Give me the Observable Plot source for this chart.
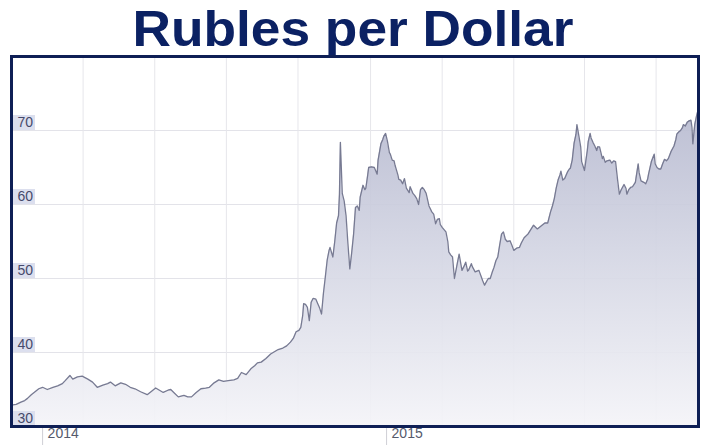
<!DOCTYPE html>
<html><head><meta charset="utf-8">
<script src="https://cdn.jsdelivr.net/npm/d3@7"></script>
<script src="https://cdn.jsdelivr.net/npm/@observablehq/plot@0.6"></script>
<style>
html,body{margin:0;padding:0;background:#fff;overflow:hidden}
#wrap{position:relative;width:706px;height:445px;overflow:hidden}
#title{position:absolute;left:0;top:0;width:706px;text-align:center;font-family:"Liberation Sans",Arial,sans-serif;font-weight:bold;font-size:50px;line-height:normal;color:#0b2163;white-space:nowrap;transform:scaleX(1.065);transform-origin:353px 0}
#chart{position:absolute;left:0;top:52px}
</style></head><body>
<div id="wrap"><div id="title">Rubles per Dollar</div><div id="chart"></div></div>
<script>
const dates = [
"2014-01-01","2014-01-06","2014-01-11","2014-01-15","2014-01-18","2014-01-22","2014-01-25","2014-01-30",
"2014-02-03","2014-02-08","2014-02-14","2014-02-19","2014-02-24","2014-02-27","2014-03-04","2014-03-07",
"2014-03-12","2014-03-17","2014-03-23","2014-03-28","2014-04-02","2014-04-08","2014-04-13","2014-04-16",
"2014-04-21","2014-04-27","2014-05-02","2014-05-07","2014-05-12","2014-05-18","2014-05-25","2014-05-30",
"2014-06-03","2014-06-07","2014-06-11","2014-06-16","2014-06-19","2014-06-23","2014-06-27","2014-07-03",
"2014-07-07","2014-07-11","2014-07-16","2014-07-21","2014-07-26","2014-07-30","2014-08-04","2014-08-09",
"2014-08-14","2014-08-19","2014-08-25","2014-08-29","2014-09-02","2014-09-07","2014-09-12","2014-09-16",
"2014-09-19","2014-09-23","2014-09-28","2014-10-03","2014-10-07","2014-10-11","2014-10-16","2014-10-20",
"2014-10-24","2014-10-27","2014-10-30","2014-11-02","2014-11-04","2014-11-06","2014-11-07","2014-11-09",
"2014-11-11","2014-11-13","2014-11-15","2014-11-17","2014-11-20","2014-11-22","2014-11-24","2014-11-26",
"2014-11-28","2014-11-30","2014-12-02","2014-12-04","2014-12-05","2014-12-08","2014-12-10","2014-12-12",
"2014-12-14","2014-12-15","2014-12-16","2014-12-18","2014-12-20","2014-12-22","2014-12-24","2014-12-26",
"2014-12-28","2014-12-30",
"2015-01-01","2015-01-03","2015-01-05","2015-01-06","2015-01-09","2015-01-11","2015-01-12","2015-01-14",
"2015-01-15","2015-01-18","2015-01-21","2015-01-24","2015-01-25","2015-01-28","2015-01-30","2015-01-31",
"2015-02-02","2015-02-04","2015-02-06","2015-02-07","2015-02-09","2015-02-11","2015-02-12","2015-02-15",
"2015-02-16","2015-02-18","2015-02-20","2015-02-22","2015-02-24","2015-02-27","2015-02-28","2015-03-03",
"2015-03-05","2015-03-07","2015-03-09","2015-03-11","2015-03-13","2015-03-15","2015-03-17","2015-03-20",
"2015-03-23","2015-03-25","2015-03-27","2015-03-29","2015-03-31","2015-04-01","2015-04-03","2015-04-07",
"2015-04-09","2015-04-10","2015-04-12","2015-04-14","2015-04-16","2015-04-19","2015-04-21","2015-04-24",
"2015-04-26","2015-04-28","2015-04-30","2015-05-01","2015-05-04","2015-05-05","2015-05-08","2015-05-12",
"2015-05-14","2015-05-16","2015-05-18","2015-05-21","2015-05-22","2015-05-24","2015-05-26","2015-05-28",
"2015-05-30","2015-06-01","2015-06-03","2015-06-05","2015-06-07","2015-06-09","2015-06-11","2015-06-14",
"2015-06-16","2015-06-18","2015-06-21","2015-06-24","2015-06-26","2015-06-29","2015-07-03","2015-07-06",
"2015-07-09","2015-07-13","2015-07-16","2015-07-21","2015-07-24","2015-07-27","2015-07-29","2015-07-31",
"2015-08-02","2015-08-04","2015-08-06","2015-08-07","2015-08-09","2015-08-11","2015-08-14","2015-08-16",
"2015-08-17","2015-08-19","2015-08-21","2015-08-23","2015-08-24","2015-08-26","2015-08-28","2015-08-29",
"2015-09-01","2015-09-02","2015-09-04","2015-09-05","2015-09-07","2015-09-08","2015-09-10","2015-09-12",
"2015-09-14","2015-09-15","2015-09-17","2015-09-20","2015-09-21","2015-09-23","2015-09-25","2015-09-28",
"2015-09-30","2015-10-02","2015-10-04","2015-10-06","2015-10-08","2015-10-10","2015-10-13","2015-10-15",
"2015-10-16","2015-10-18","2015-10-20","2015-10-22","2015-10-25","2015-10-28","2015-10-29","2015-10-31",
"2015-11-03","2015-11-05","2015-11-07","2015-11-08","2015-11-11","2015-11-14","2015-11-15","2015-11-17",
"2015-11-19","2015-11-21","2015-11-23","2015-11-25","2015-11-27","2015-11-29","2015-12-02","2015-12-05",
"2015-12-07","2015-12-08","2015-12-10","2015-12-12","2015-12-14","2015-12-15","2015-12-17","2015-12-19",
"2015-12-21","2015-12-23","2015-12-24","2015-12-25","2015-12-26","2015-12-27","2015-12-29","2015-12-31"
];
const rates = [
32.9,33.0,33.3,33.5,33.8,34.3,34.6,35.1,
35.3,35.0,35.3,35.5,35.8,36.2,36.9,36.4,
36.7,36.8,36.4,36.0,35.3,35.6,35.8,36.0,
35.5,35.9,35.7,35.3,35.1,34.7,34.3,34.8,
35.2,34.9,34.6,34.9,35.0,34.5,34.0,34.2,
34.0,34.0,34.6,35.1,35.2,35.3,35.9,36.3,
36.1,36.2,36.3,36.5,37.3,37.0,37.8,38.2,
38.6,38.7,39.2,39.8,40.1,40.4,40.6,40.9,
41.4,41.9,42.8,43.0,43.4,45.0,46.6,46.5,
46.1,44.3,46.8,47.3,47.2,46.6,46.0,45.2,
48.0,50.2,52.5,53.8,54.2,52.9,55.0,57.5,
58.5,61.4,68.4,61.5,60.5,58.5,54.7,51.3,
53.5,56.0,
59.6,59.8,59.2,61.0,62.6,62.0,62.2,64.0,
65.0,65.1,65.0,64.1,66.0,68.2,68.8,69.2,
69.6,68.5,67.0,66.8,66.0,65.9,65.3,64.0,
63.4,63.3,62.8,63.5,62.2,61.6,62.4,61.5,
61.2,60.8,60.0,62.0,62.3,62.0,61.5,59.8,
59.0,58.7,57.4,58.0,58.1,57.3,56.9,56.3,
55.0,53.6,53.2,52.9,50.0,52.0,53.3,51.1,
51.6,52.2,51.0,51.1,52.0,51.6,50.9,51.1,
50.4,49.7,49.1,49.8,50.0,50.0,50.8,51.5,
52.4,52.9,54.5,56.0,56.3,55.3,55.0,55.1,
54.5,53.8,54.1,54.2,54.8,55.5,56.0,56.6,
57.2,56.7,57.0,57.5,57.5,59.0,59.8,60.8,
62.2,63.3,64.0,64.5,63.3,63.5,64.4,64.8,
64.9,66.0,68.3,69.5,70.8,69.3,67.8,65.8,
64.6,65.5,67.3,68.5,69.6,69.0,68.4,67.9,
67.3,67.8,67.8,66.2,66.5,65.7,65.9,66.0,
65.6,65.9,65.8,63.5,61.4,62.0,62.7,62.2,
61.4,62.0,62.3,62.4,63.0,65.5,64.3,63.2,
63.0,62.8,63.4,64.1,65.8,66.8,65.5,65.0,
64.8,64.8,65.5,66.1,65.9,66.2,67.2,67.9,
68.8,69.5,69.8,70.0,70.4,70.8,70.6,71.1,
71.3,71.4,70.5,68.2,69.5,70.8,72.0,73.0
];
const yTicks = [30, 40, 50, 60, 70];
const gridDates = ["2014-03-18","2014-06-02","2014-08-17","2014-11-01","2015-01-17","2015-04-03","2015-06-18","2015-09-01","2015-11-16"];
const yearTickDates = ["2014-02-03","2015-02-03"];
const yearLabels = ["2014","2015"];

const data = dates.map((d, i) => ({date: new Date(d), value: rates[i]}));

const gradientDefs = () => {
  const defs = d3.create("svg:defs");
  const g = defs.append("linearGradient").attr("id", "rubGrad")
    .attr("x1", 0).attr("x2", 0).attr("y1", 0).attr("y2", 1);
  g.append("stop").attr("offset", "0%").attr("stop-color", "#b7bad0");
  g.append("stop").attr("offset", "45%").attr("stop-color", "#d3d5e3");
  g.append("stop").attr("offset", "100%").attr("stop-color", "#f4f4f8");
  return defs.node();
};

const chart = Plot.plot({
  width: 706,
  height: 393,
  marginTop: 4,
  marginBottom: 19,
  marginLeft: 11,
  marginRight: 8,
  style: {fontFamily: "'Liberation Sans', Arial, sans-serif", background: "transparent", overflow: "visible"},
  x: {type: "utc", domain: [new Date("2014-01-01"), new Date("2015-12-31")], axis: null},
  y: {domain: [30, 80], axis: null},
  marks: [
    gradientDefs,
    Plot.frame({fill: "white"}),
    Plot.ruleY(yTicks, {y: d => d, stroke: "#e3e3e9", strokeWidth: 1}),
    Plot.ruleX(gridDates, {x: d => new Date(d), stroke: "#e6e6eb", strokeWidth: 1}),
    Plot.areaY(data, {x: "date", y1: 30, y2: "value", fill: "url(#rubGrad)", fillOpacity: 0.92}),
    Plot.lineY(data, {x: "date", y: "value", stroke: "#777a92", strokeWidth: 1.3}),
    Plot.ruleY(yTicks, {y: d => d, stroke: "#dcdfee", strokeWidth: 15, dy: -8, insetLeft: 2, insetRight: 663}),
    Plot.text(yTicks, {y: d => d, text: d => String(d), frameAnchor: "left", textAnchor: "start", dx: 6, dy: -8, fill: "#464a6b", fontSize: 14}),
    Plot.axisX({ticks: yearTickDates.map(d => new Date(d)), tickSize: 19, tickFormat: () => "", stroke: "#cfcfd6", label: null}),
    Plot.text(yearLabels, {x: (d, i) => new Date(yearTickDates[i]), text: d => d, frameAnchor: "bottom", textAnchor: "start", dx: 5, dy: 11, fill: "#555a6c", fontSize: 14}),
    Plot.frame({stroke: "#0e1f55", strokeWidth: 3})
  ]
});
document.getElementById("chart").appendChild(chart);
</script>
</body></html>
